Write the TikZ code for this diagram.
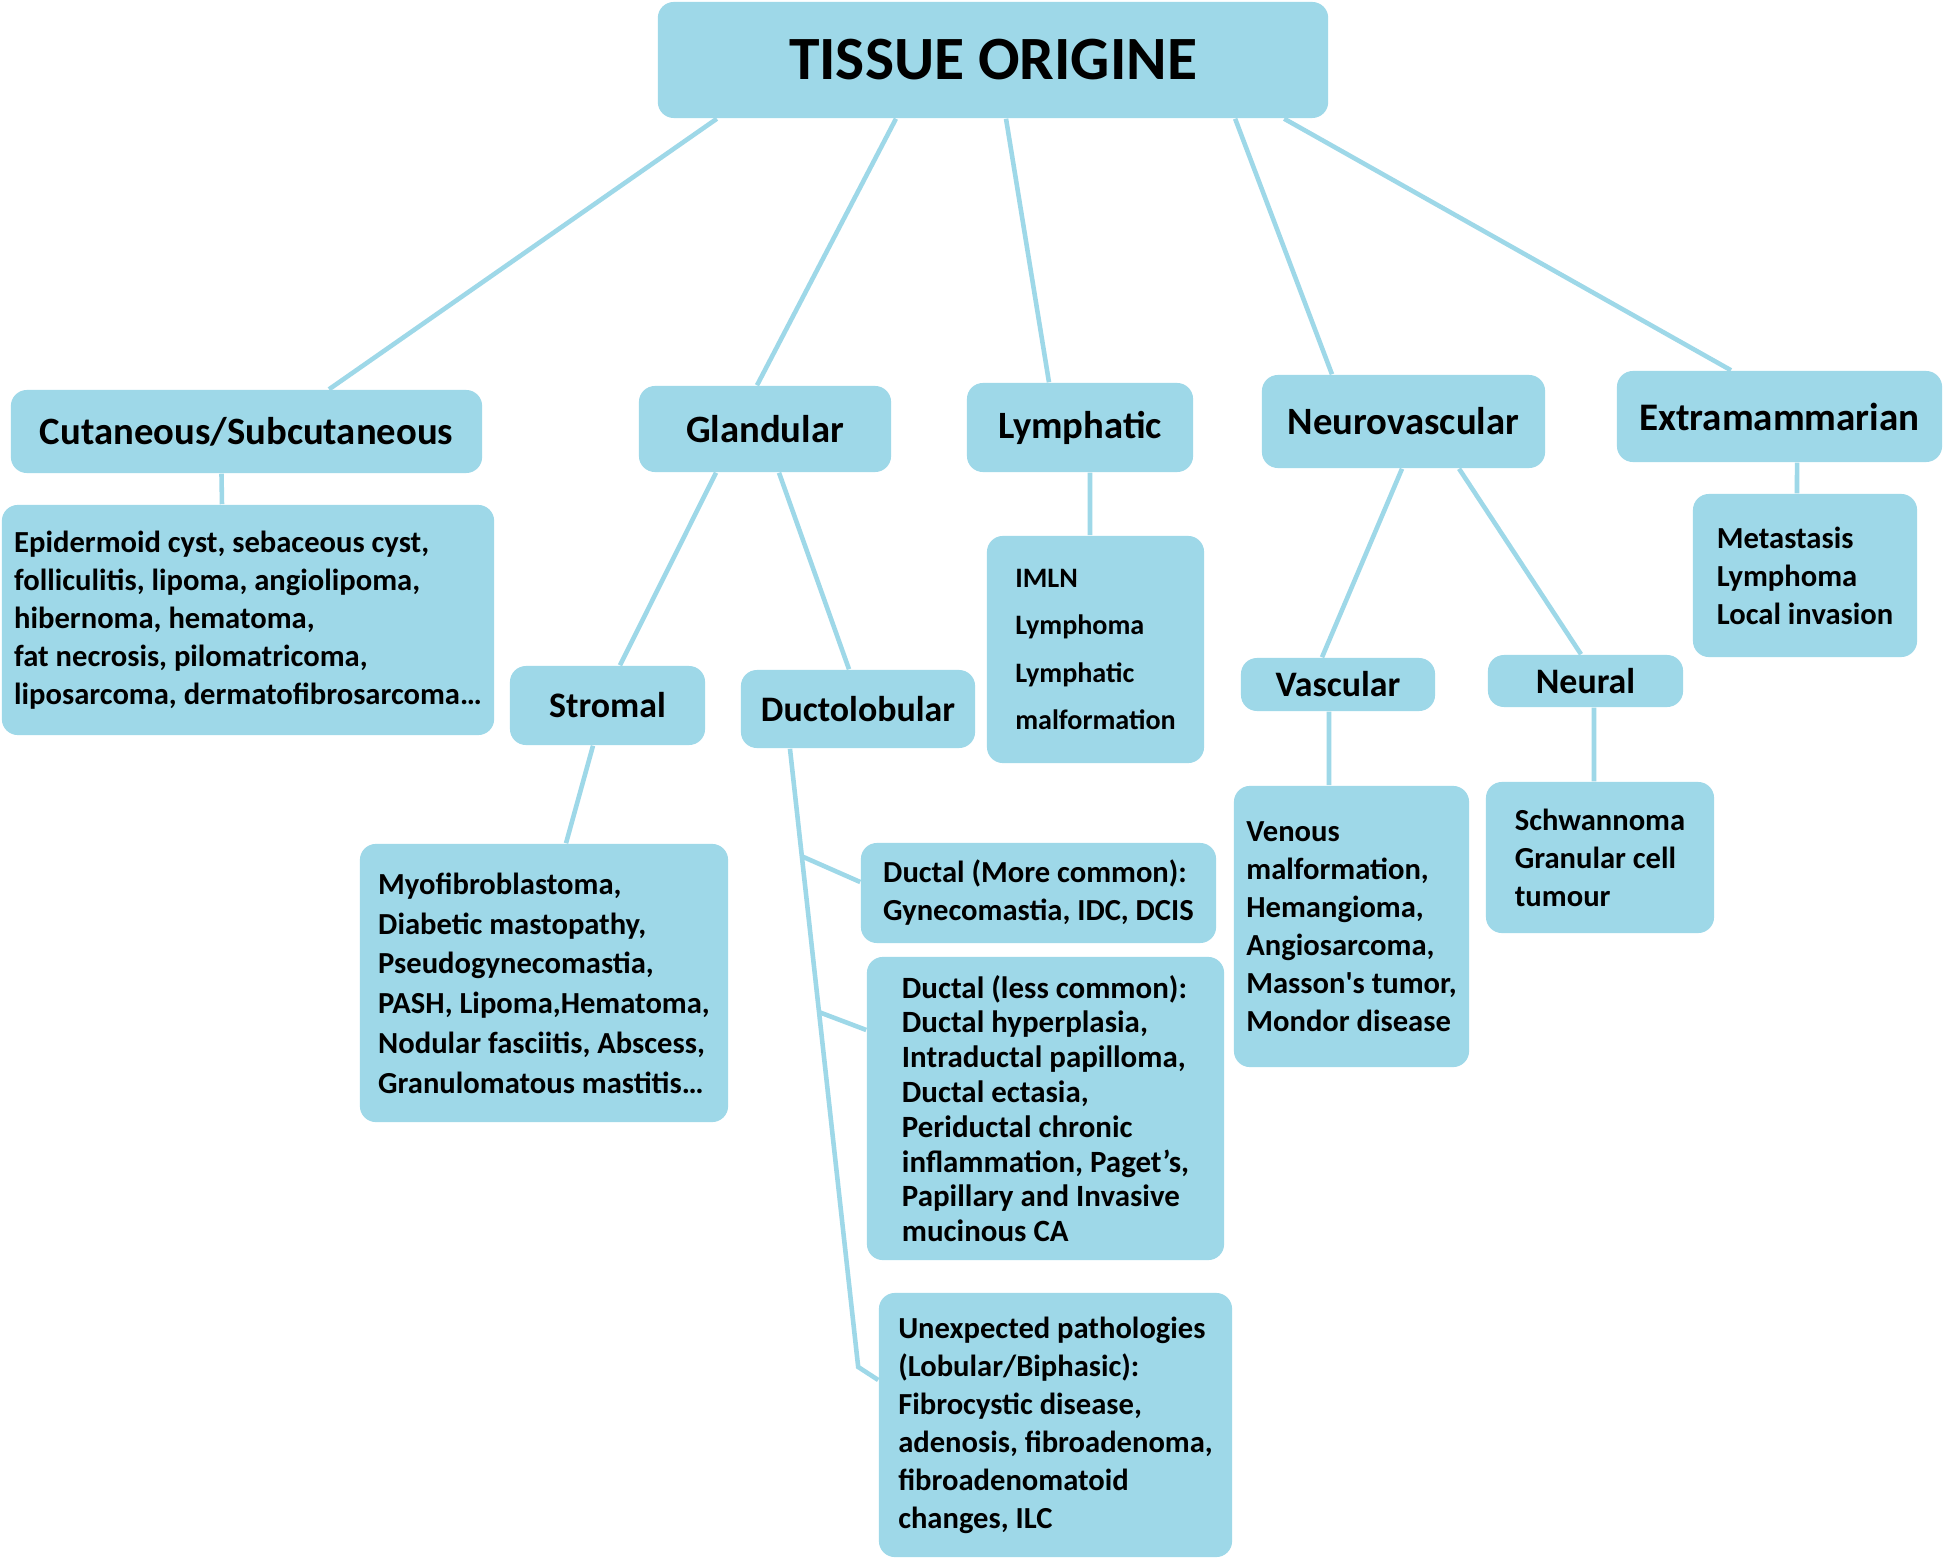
\documentclass[tikz,border=0pt]{standalone}
\usepackage{fontspec}
\setmainfont{Carlito}
\definecolor{tissueblue}{RGB}{158,216,232}
\usetikzlibrary{calc}

\begin{document}
\begin{tikzpicture}[x=0.01cm, y=-0.01cm,
    tbox/.style={rectangle, rounded corners=1.6mm, fill=tissueblue,
                 inner sep=0pt, align=center},
    head/.style={tbox, font=\fontsize{11}{13}\selectfont\bfseries},
    sub/.style={tbox, font=\fontsize{10.2}{12}\selectfont\bfseries},
    leaf/.style={tbox, align=left,
                 font=\fontsize{8.7}{10.8}\selectfont\bfseries},
    link/.style={draw=tissueblue, line width=1.3pt}]
    \fill[white] (0,0) rectangle (1946,1561);
    \useasboundingbox (0,0) rectangle (1946,1561);

    % Root
    \node[tbox, minimum width=67mm, minimum height=11.6mm,
          font=\fontsize{17.5}{21}\selectfont\bfseries] (title) at (993,60) {TISSUE ORIGINE};

    % First level
    \node[head, minimum width=47.1mm, minimum height=8.3mm] (cut) at (246.5,431.5) {Cutaneous/Subcutaneous};
    \node[head, minimum width=25.2mm, minimum height=8.6mm] (gland) at (765,429) {Glandular};
    \node[head, minimum width=22.6mm, minimum height=8.9mm] (lymph) at (1080,427.5) {Lymphatic};
    \node[head, minimum width=28.3mm, minimum height=9.3mm] (neuro) at (1403.5,421.5) {Neurovascular};
    \node[head, minimum width=32.5mm, minimum height=9.1mm,
          font=\fontsize{11.1}{13}\selectfont\bfseries] (extra) at (1779.5,416.5) {Extramammarian};

    % Second level
    \node[sub, minimum width=19.5mm, minimum height=7.9mm] (strom) at (607.5,705.5) {Stromal};
    \node[sub, minimum width=23.4mm, minimum height=7.8mm] (ducto) at (858,709) {Ductolobular};
    \node[sub, minimum width=19.4mm, minimum height=5.3mm] (vasc) at (1338,684.5) {Vascular};
    \node[sub, minimum width=19.5mm, minimum height=5.2mm] (neural) at (1585.5,681) {Neural};

    % Leaves
    \node[leaf, minimum width=49.2mm, minimum height=23mm] (cutc) at (248,620)
      {Epidermoid cyst, sebaceous cyst,\\ folliculitis, lipoma, angiolipoma,\\ hibernoma, hematoma,\\
       fat necrosis, pilomatricoma,\\ liposarcoma, dermatofibrosarcoma…};
    \node[leaf, minimum width=21.7mm, minimum height=22.7mm,
          font=\fontsize{8}{13.5}\selectfont\bfseries] (lymphc) at (1095.5,649.5)
      {IMLN\\ Lymphoma\\ Lymphatic\\ malformation};
    \node[leaf, minimum width=22.4mm, minimum height=16.3mm] (extrac) at (1805,575.5)
      {Metastasis\\ Lymphoma\\ Local invasion};
    \node[leaf, minimum width=36.8mm, minimum height=27.8mm,
          font=\fontsize{8.7}{11.3}\selectfont\bfseries] (stromc) at (544,983)
      {Myofibroblastoma,\\ Diabetic mastopathy,\\ Pseudogynecomastia,\\ PASH, Lipoma,Hematoma,\\
       Nodular fasciitis, Abscess,\\ Granulomatous mastitis…};
    \node[leaf, minimum width=35.5mm, minimum height=10mm] (dmore) at (1038.5,893)
      {Ductal (More common):\\ Gynecomastia, IDC, DCIS};
    \node[leaf, minimum width=35.7mm, minimum height=30.3mm,
          font=\fontsize{8.8}{9.9}\selectfont\bfseries] (dless) at (1045.5,1108.5)
      {Ductal (less common):\\ Ductal hyperplasia,\\ Intraductal papilloma,\\ Ductal ectasia,\\
       Periductal chronic\\ inflammation, Paget’s,\\ Papillary and Invasive\\ mucinous CA};
    \node[leaf, minimum width=35.3mm, minimum height=26.4mm] (unexp) at (1055.5,1425)
      {Unexpected pathologies\\ (Lobular/Biphasic):\\ Fibrocystic disease,\\ adenosis, fibroadenoma,\\
       fibroadenomatoid\\ changes, ILC};
    \node[leaf, minimum width=23.5mm, minimum height=28.1mm] (vascc) at (1351.5,926.5)
      {Venous\\ malformation,\\ Hemangioma,\\ Angiosarcoma,\\ Masson\textquotesingle s tumor,\\ Mondor disease};
    \node[leaf, minimum width=22.8mm, minimum height=15.1mm] (neuralc) at (1600,857.5)
      {Schwannoma\\ Granular cell\\ tumour};

    % Root to first level
    \draw[link] ([xshift=-27.6mm]title.south) -- ([xshift=8.25mm]cut.north);
    \draw[link] ([xshift=-9.7mm]title.south) -- ([xshift=-0.8mm]gland.north);
    \draw[link] ([xshift=1.3mm]title.south) -- ([xshift=-3.1mm]lymph.north);
    \draw[link] ([xshift=24.2mm]title.south) -- ([xshift=-7.15mm]neuro.north);
    \draw[link] ([xshift=29.1mm]title.south) -- ([xshift=-4.85mm]extra.north);

    % First level down
    \draw[link] ([xshift=-2.5mm]cut.south) -- ([xshift=-2.6mm]cutc.north);
    \draw[link] ([xshift=-4.9mm]gland.south) -- ([xshift=1.25mm]strom.north);
    \draw[link] ([xshift=1.4mm]gland.south) -- ([xshift=-0.9mm]ducto.north);
    \draw[link] ([xshift=1mm]lymph.south) -- ([xshift=-0.55mm]lymphc.north);
    \draw[link] ([xshift=-0.15mm]neuro.south) -- ([xshift=-1.6mm]vasc.north);
    \draw[link] ([xshift=5.55mm]neuro.south) -- ([xshift=-0.45mm]neural.north);
    \draw[link] ([xshift=1.75mm]extra.south) -- ([xshift=-0.8mm]extrac.north);

    % Second level down
    \draw[link] ([xshift=-1.45mm]strom.south) -- ([xshift=2.2mm]stromc.north);
    \draw[link] ([xshift=-0.9mm]vasc.south) -- ([xshift=-2.25mm]vascc.north);
    \draw[link] ([xshift=0.85mm]neural.south) -- ([xshift=-0.6mm]neuralc.north);

    % Ductolobular spine with its three branches
    \coordinate (dtop) at ([xshift=-6.8mm]ducto.south);
    \coordinate (dbot) at ([xshift=-2mm, yshift=5.8mm]unexp.west);
    \draw[link] (dtop) -- (dbot) -- ([yshift=4.5mm]unexp.west);
    \draw[link] ($(dtop)!0.174!(dbot)$) -- ([yshift=1.1mm]dmore.west);
    \draw[link] ($(dtop)!0.426!(dbot)$) -- ([yshift=7.85mm]dless.west);
\end{tikzpicture}
\end{document}
